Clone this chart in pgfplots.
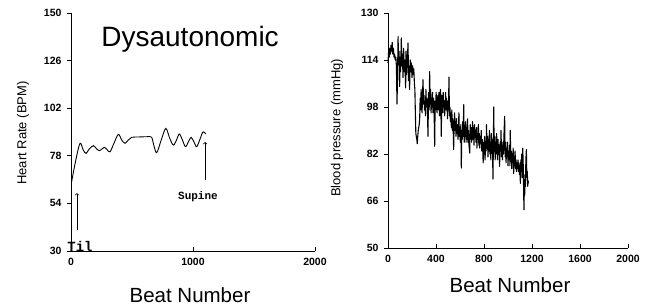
\documentclass[border=0pt]{standalone}
\usepackage{pgfplots}
\pgfplotsset{compat=1.18}
\usepackage{fontspec}
\setmainfont{Liberation Sans}
\newfontfamily\monofont{Liberation Mono}
\begin{document}
\begin{tikzpicture}[x=1pt,y=1pt]
\useasboundingbox (0,0) rectangle (645,307);
\coordinate (L) at (71,56);
\coordinate (R) at (388,59);
\pgfplotsset{
  myax/.style={
    scale only axis,
    axis x line=bottom, axis y line=left,
    axis line style={-, line width=0.8pt},
    x axis line style={-}, y axis line style={-},
    /pgf/number format/assume math mode=true,
    /pgf/number format/1000 sep={},
    tick label style={font=\bfseries\fontsize{10.5}{11}\selectfont},
    xtick align=inside, ytick align=outside,
    major tick length=4pt,
    tick style={line width=0.8pt, black},
    clip=false,
  }
}
% ---------- Left panel ----------
\begin{axis}[myax, at={(L)}, anchor=south west,
  width=244pt, height=238pt,
  xmin=0, xmax=2000, ymin=30, ymax=150,
  xtick={0,1000,2000}, ytick={30,54,78,102,126,150},
  yticklabel style={xshift=-2pt}, xticklabel style={yshift=-4pt}]
\addplot[black, line width=0.9pt, smooth, tension=0.55] coordinates {
(5,64.9)(40,76)(74,84.3)(100,81)(123,79.2)(150,81.5)(183,83.1)(210,81.5)(232,80.6)
(255,81.5)(273,82.3)(297,81)(320,80)(350,84)(388,88.8)(415,86)(443,84.3)(470,86)
(497,87.3)(560,87.5)(620,87.6)(660,87.4)(680,83)(703,79.6)(740,86)(777,91.8)(808,87)
(839,83.4)(865,86)(888,89)(913,86)(938,82.6)(962,85)(984,87.3)(1008,85)(1030,82.6)
(1055,86)(1079,89.8)(1093,89.8)(1104,89)};
\draw[->, line width=0.7pt] (axis cs:49,40.6) -- (axis cs:49,59.2);
\draw[->, line width=0.7pt] (axis cs:1099,65.8) -- (axis cs:1099,85);
\node[font=\monofont\bfseries\fontsize{11}{12}\selectfont] at (axis cs:1041,57.2) {Supine};
\node[font=\monofont\bfseries\fontsize{14}{14}\selectfont] at (axis cs:74,32.5) {Til};
\node[font=\fontsize{28}{30}\selectfont] at (axis cs:976,136.9) {Dysautonomic};
\end{axis}
% ---------- Right panel ----------
\begin{axis}[myax, at={(R)}, anchor=south west,
  width=240pt, height=235pt,
  xmin=0, xmax=2000, ymin=50, ymax=130,
  xtick={0,400,800,1200,1600,2000}, ytick={50,66,82,98,114,130},
  yticklabel style={xshift=-2pt}, xticklabel style={yshift=-4pt}]
\addplot[black, line width=1.1pt, line join=round] coordinates {
(0,113)(5,117)(10,115)(15,118)(20,116)(25,119)(30,117)(35,120)(40,116)(45,118)(50,115)(55,116)
(60,114)(65,115)(70,112)(75,99)(80,110)(84,122)(88,113)(92,117)(97,105)(101,115)(105,110)
(111,121.5)(115,112)(120,116)(125,108)(130,118)(135,110)(140,114)(147,104.5)(150,117)(155,109)
(160,113)(167,119.8)(171,107)(175,112)(180,104)(185,114)(190,110)(195,113)(200,108)(205,112)
(210,109)(215,111)(220,106)(224,104)(228,96)(232,89)(236,88)(240,87)(244,85.5)(248,88)(252,90)
(256,91)(260,92)(264,94)(268,101)(272,97)(276,104)(280,99)(284,96)(288,103)(292,107.3)(296,99)
(300,102)(304,97)(308,100)(312,95)(316,104)(320,98)(324,101)(328,99)(333,88)(338,103)(343,97)
(347,110.1)(351,99)(355,104)(359,96)(363,101)(367,98)(371,103)(375,96)(380,101)(384,97)
(389,84.6)(393,100)(397,97)(401,103)(405,99)(409,96)(413,101)(417,102)(421,97)(425,103)
(429,95)(433,100)(437,104)(441,97)(444,88)(448,102)(452,99)(456,96)(460,103)(464,98)(468,100)
(472,95)(476,99)(480,103)(484,97)(488,101)(492,99)(496,94)(500,100)(504,97)(508,108.2)(512,95)
(516,98)(520,93)(524,96)(528,91)(532,97)(536,90)(540,94)(544,89)(547,83.5)(551,92)(555,96)
(559,90)(563,93)(567,88)(571,94)(575,89)(579,92)(583,87)(587,91)(591,96)(595,88)(599,90)
(603,86)(607,92)(611,77.2)(615,90)(619,87)(623,93)(627,88)(631,98.8)(635,86)(639,90)(643,88)
(647,93)(651,86)(655,91)(659,87)(663,94)(667,86)(671,90)(675,85)(681,82.3)(685,92)(689,88)
(693,91)(697,86)(701,90)(705,93)(709,87)(713,91)(717,85)(721,92)(725,88)(729,90)(733,86)
(737,91)(741,84)(745,89)(749,87)(753,92)(757,85)(761,89)(765,84)(769,88)(773,86)(777,90)
(781,83)(785,87)(789,84)(793,79)(797,86)(801,82)(805,88)(809,80)(813,86)(817,83)(821,92)
(825,84)(829,88)(833,81)(837,87)(841,83)(845,90)(849,82)(853,86)(857,80)(861,89)(865,84)
(869,87)(875,73.5)(881,98)(885,83)(889,88)(893,80)(897,86)(901,82)(905,89)(909,84)(913,80)
(917,87)(921,82)(925,85)(930,77.8)(934,86)(938,83)(942,90)(946,81)(950,86)(954,80)(958,85)
(962,82)(966,88)(972,94.8)(976,81)(980,86)(984,79)(988,84)(992,81)(996,86)(1000,78)(1004,83)
(1008,80)(1012,85)(1016,78)(1019,90)(1023,80)(1027,83)(1031,77)(1035,82)(1039,79)(1043,84)
(1047,75.3)(1051,81)(1055,78)(1059,83)(1063,77)(1067,80)(1071,76)(1075,79)(1079,77)(1083,80)
(1087,76)(1091,79)(1095,75)(1099,78)(1103,72)(1107,80)(1111,76)(1115,82)(1119,74)(1123,84)
(1127,78)(1130,70)(1133,63)(1136,70)(1139,68)(1142,75)(1145,71)(1149,80)(1153,83.5)(1157,74)
(1161,76)(1164,71)(1167,73)(1170,72)};
\end{axis}
% ---------- axis titles ----------
\node[font=\fontsize{13}{14}\selectfont, rotate=90] at (23,174) {Heart Rate (BPM)};
\node[font=\fontsize{13}{14}\selectfont, rotate=90] at (337,179) {Blood pressure (mmHg)};
\node[font=\fontsize{20.5}{22}\selectfont] at (190,12) {Beat Number};
\node[font=\fontsize{20.5}{22}\selectfont] at (510,22) {Beat Number};
\end{tikzpicture}
\end{document}
